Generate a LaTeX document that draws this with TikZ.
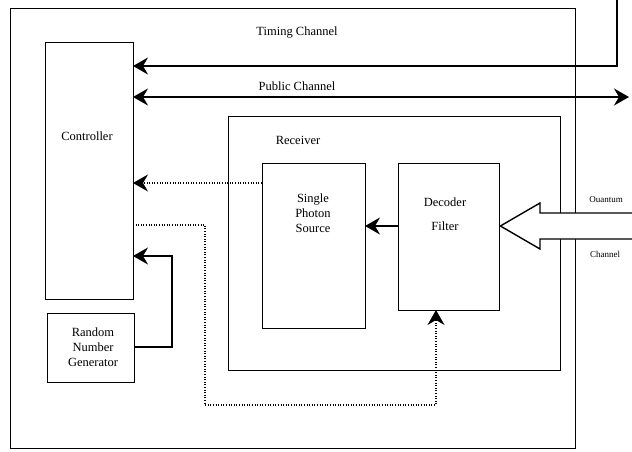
\documentclass[tikz,border=0pt]{standalone}
\usepackage{fontspec}
\setmainfont{Liberation Serif}
\usetikzlibrary{arrows.meta}
\begin{document}
\begin{tikzpicture}[x=1pt,y=-1pt,
  box/.style={draw,line width=1.4pt,rectangle,inner sep=0pt,anchor=north west},
  lbl/.style={font=\fontsize{12.5}{15}\selectfont,align=center,inner sep=0pt},
  tip/.style={-{Stealth[length=15pt,width=17pt,inset=5pt]}},
  conn/.style={line width=1.4pt,tip},
  dconn/.style={line width=1.2pt,dash pattern=on 1pt off 1.6pt,tip}]
\useasboundingbox (0,0) rectangle (632,452);
% boxes
\node[box,minimum width=565pt,minimum height=440pt] (outer) at (10,8) {};
\node[box,minimum width=88pt,minimum height=257pt] (ctrl) at (45,42) {};
\node[box,minimum width=87pt,minimum height=69pt] (rng) at (47,313) {};
\node[box,minimum width=332pt,minimum height=254pt] (rec) at (228,116) {};
\node[box,minimum width=103pt,minimum height=165pt] (sps) at (262,163) {};
\node[box,minimum width=101pt,minimum height=147pt] (dec) at (398,163) {};
% named anchor coordinates
\coordinate (cT) at (133,66);
\coordinate (cP) at (133,97);
\coordinate (cS) at (133,183);
\coordinate (cD) at (133,225);
\coordinate (cR) at (133,256);
\coordinate (rngR) at (134,347);
\coordinate (spsL) at (262,183);
\coordinate (spsR) at (365,226);
\coordinate (decL) at (398,226);
\coordinate (decB) at (436,310);
\coordinate (timeEnd) at (617,0);
\coordinate (pubEnd) at (629,97);
% labels
\node[lbl] (lctrl) at (87,136) {Controller};
\node[lbl] (lrng) at (93,347.5) {Random\\Number\\Generator};
\node[lbl] (lrec) at (298,140) {Receiver};
\node[lbl] (lsps) at (313,213) {Single\\Photon\\Source};
\node[lbl] (ldec1) at (445,202) {Decoder};
\node[lbl] (ldec2) at (445,226) {Filter};
\node[lbl] (ltime) at (297,33) {Timing Channel};
\node[lbl] (lpub) at (297,86) {Public Channel};
\node[lbl,font=\fontsize{9}{10}\selectfont] (lq1) at (606,200) {Ouantum};
\node[lbl,font=\fontsize{9}{10}\selectfont] (lq2) at (605,254) {Channel};
% quantum channel hollow arrow
\draw[line width=1.4pt,fill=white,line join=miter]
  (634,213) -- (540,213) -- (540,203) -- (dec.east |- decL) -- (540,249) -- (540,239) -- (634,239);
% connectors
\draw[conn] (timeEnd) -- (617,66) -- (cT);
\draw[line width=1.4pt,{Stealth[length=15pt,width=17pt,inset=5pt]}-{Stealth[length=15pt,width=17pt,inset=5pt]}] (cP) -- (pubEnd);
\draw[conn] (decL) -- (spsR);
\draw[dconn] (spsL) -- (cS);
\draw[dconn] (cD) -- (205,225) -- (205,405) -- (436,405) -- (decB);
\draw[conn] (rngR) -- (172,347) -- (172,256) -- (cR);
\end{tikzpicture}
\end{document}
